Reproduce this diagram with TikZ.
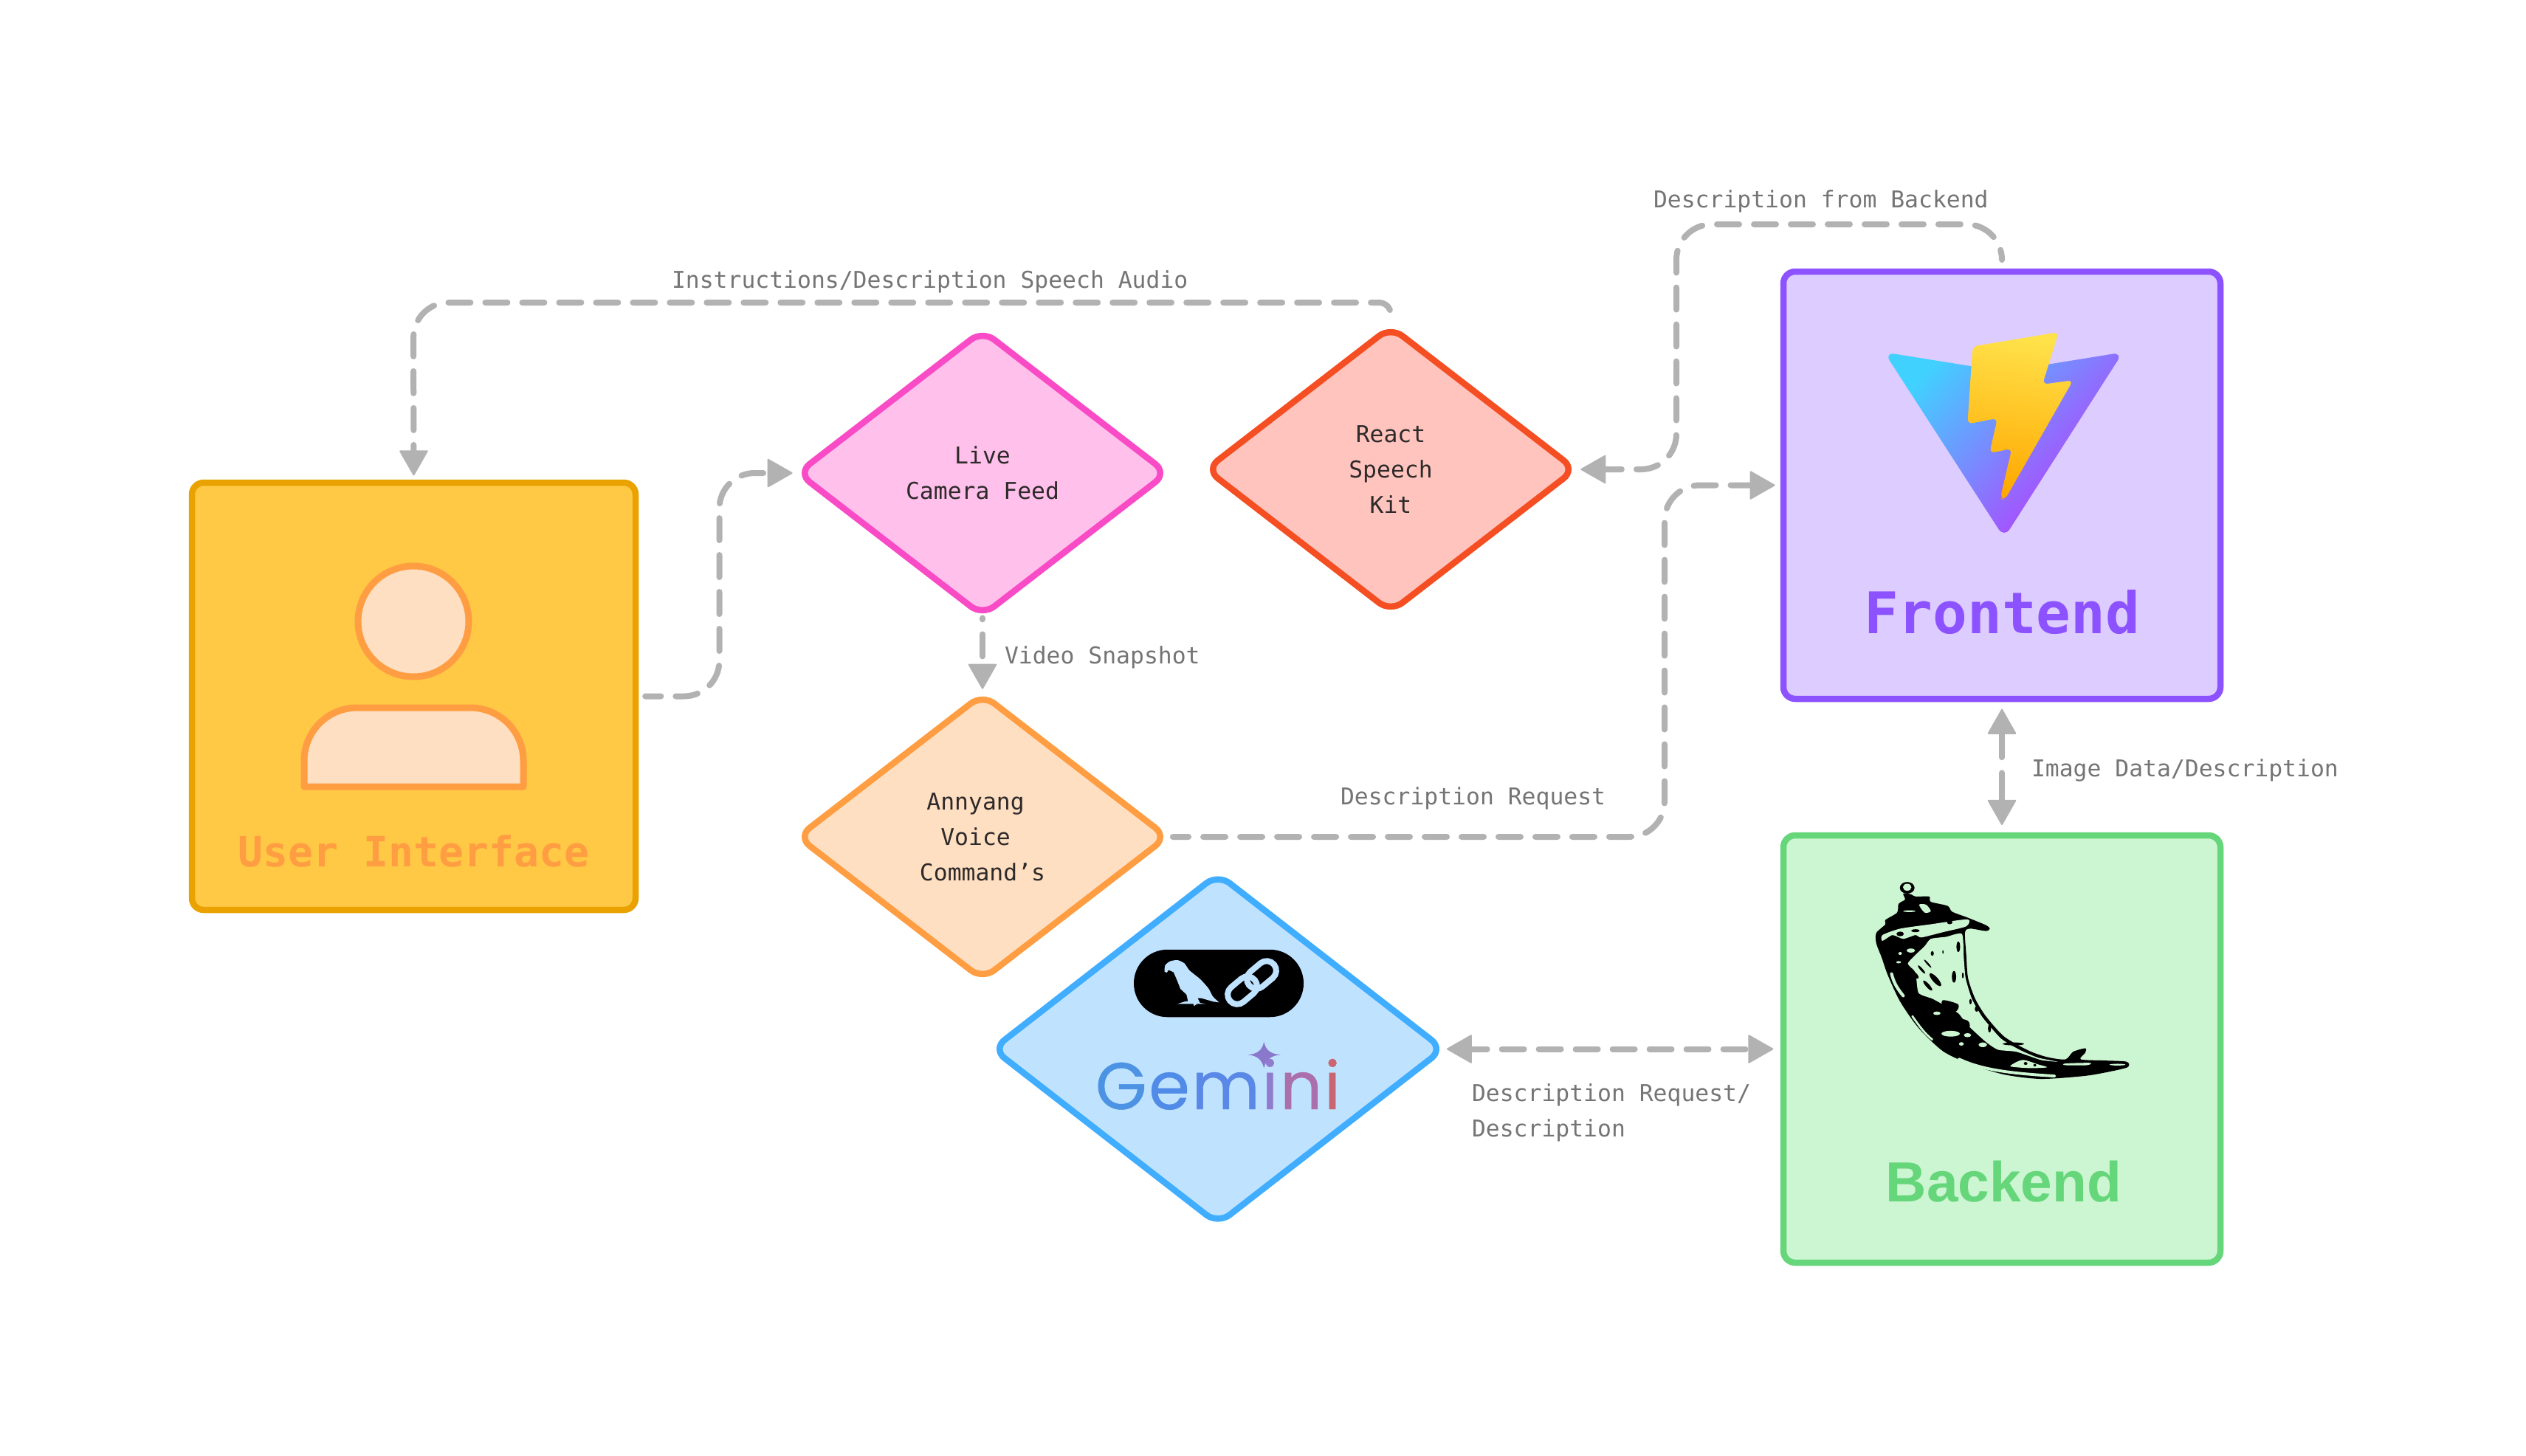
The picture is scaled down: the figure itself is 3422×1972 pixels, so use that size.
\documentclass[tikz,border=0pt]{standalone}
\usepackage{fontspec}
\usetikzlibrary{shapes.geometric,arrows.meta}
\newfontfamily\monof{DejaVu Sans Mono}
\newfontfamily\backf{Liberation Sans}
\newfontfamily\gemf[FakeBold=0.5]{Poppins}
\definecolor{cgray}{HTML}{B2B2B2}
\definecolor{lgray}{HTML}{757575}
\definecolor{dk}{HTML}{2E2A2A}
\definecolor{uStroke}{HTML}{E9A200}
\definecolor{uFill}{HTML}{FFC845}
\definecolor{oStroke}{HTML}{FF9D42}
\definecolor{oFill}{HTML}{FFDFC2}
\definecolor{pStroke}{HTML}{FA4BC7}
\definecolor{pFill}{HTML}{FFC0EB}
\definecolor{rStroke}{HTML}{F54E23}
\definecolor{rFill}{HTML}{FFC4BD}
\definecolor{bStroke}{HTML}{40ADFF}
\definecolor{bFill}{HTML}{BFE3FF}
\definecolor{vStroke}{HTML}{8C52FF}
\definecolor{vFill}{HTML}{DDCCFF}
\definecolor{gStroke}{HTML}{66D67A}
\definecolor{gFill}{HTML}{CCF5D2}
\definecolor{g1}{HTML}{4D93E4}
\definecolor{g2}{HTML}{508BE8}
\definecolor{g3}{HTML}{5A88E6}
\definecolor{g4}{HTML}{917BCC}
\definecolor{g5}{HTML}{AC6FAE}
\definecolor{g6}{HTML}{C96672}
\definecolor{gStar}{HTML}{8A78CC}
\definecolor{vite1}{HTML}{41D1FF}
\definecolor{vite2}{HTML}{BD34FE}
\definecolor{bolt1}{HTML}{FFE24A}
\definecolor{bolt2}{HTML}{FFA800}
\def\pu{0.02cm}
\tikzset{
  x=0.02cm,y=-0.02cm,
  boxnode/.style={rectangle,draw=#1,line width=8.5*\pu,rounded corners=16*\pu,
    minimum width=592*\pu,minimum height=579*\pu,inner sep=0pt,outer sep=0pt},
  dmnd/.style={diamond,line width=8.5*\pu,rounded corners=20*\pu,inner sep=0pt,outer sep=0pt,
    minimum width=500*\pu,minimum height=386*\pu,align=center,text=dk,
    font=\monof\fontsize{17.87}{27.3}\selectfont},
  lab/.style={anchor=base west,inner sep=0pt,outer sep=0pt,align=left,text=lgray,
    font=\monof\fontsize{17.87}{27.3}\selectfont},
  conn/.style={draw=cgray,line width=8*\pu,line cap=round,line join=round,rounded corners=48*\pu},
  dsh/.style={dash pattern=on 17.07pt off 11.38pt,dash phase=#1},
  tip/.style={-{Triangle[length=20pt,width=22.5pt,round,line width=1.2pt]}},
  tips/.style={{Triangle[length=20pt,width=22.5pt,round,line width=1.2pt]}-{Triangle[length=20pt,width=22.5pt,round,line width=1.2pt]}},
}
\begin{document}
\begin{tikzpicture}
\useasboundingbox (0,0) rectangle (3422,1972);
\fill[white] (0,0) rectangle (3422,1972);

% boxes
\node[boxnode=uStroke,fill=uFill,minimum width=601*\pu] (user) at (560.5,943.5) {};
\node[boxnode=vStroke,fill=vFill] (frontend) at (2712,657.5) {};
\node[boxnode=gStroke,fill=gFill] (backend) at (2712,1421.5) {};

% diamonds
\node[dmnd,draw=pStroke,fill=pFill] (live) at (1331,641) {Live\\Camera Feed};
\node[dmnd,draw=rStroke,fill=rFill] (react) at (1884,636) {React\\Speech\\Kit};
\node[dmnd,draw=oStroke,fill=oFill] (annyang) at (1331,1134) {Annyang\hspace*{0.6em}\mbox{}\\Voice\hspace*{0.6em}\mbox{}\\Command’s};
\node[dmnd,draw=bStroke,fill=bFill,minimum width=610*\pu,minimum height=474*\pu] (gemini) at (1650,1421.5) {};

% user icon
\draw[oStroke,fill=oFill,line width=9*\pu] (560,842) circle (75);
\draw[oStroke,fill=oFill,line width=9*\pu,line join=round] (412,1066) -- (412,1031) .. controls (412,991) and (444,959) .. (484,959) -- (637,959) .. controls (677,959) and (709,991) .. (709,1031) -- (709,1066) -- cycle;
\node[anchor=base,inner sep=0pt,text=oStroke,font=\monof\bfseries\fontsize{32.1}{36}\selectfont] (userlabel) at (560.5,1174) {User Interface};

% frontend
\node[anchor=base,inner sep=0pt,text=vStroke,font=\monof\bfseries\fontsize{44.2}{50}\selectfont] (frontendlabel) at (2712,858) {Frontend};
\begin{scope}[shift={(2400,350)},xscale=0.4146,yscale=0.3954]
  \shade[top color=vite1,bottom color=vite2,shading angle=48,rounded corners=8pt]
    (368,322) -- (760,388) -- (1148,322) -- (760,958) -- cycle;
  \shade[top color=bolt1,bottom color=bolt2,shading angle=-8,rounded corners=4pt]
    (657,302) -- (938,253) -- (885,432) -- (985,418) -- (762,828) -- (747,822) -- (785,652) -- (712,668) -- (738,548) -- (640,568) -- cycle;
\end{scope}

% backend label and flask horn
\node[anchor=base,inner sep=0pt,text=gStroke,font=\backf\bfseries\fontsize{43.6}{50}\selectfont] (backendlabel) at (2714.5,1628) {Backend};
\begin{scope}[shift={(2400,1120)},xscale=0.4146,yscale=0.3954]
  \fill[black] (443,210) ellipse (24 and 20);
  \fill[gFill] (443,208) ellipse (14 and 12);
  \fill[black] plot[smooth cycle,tension=.45] coordinates {(430,230) (455,232) (470,240) (515,240) (520,258) (575,272) (590,292) (640,312) (700,338) (713,350) (700,358) (650,350) (632,362) (636,440) (642,520) (665,590) (700,650) (760,720) (840,768) (900,790) (960,798) (985,772) (1025,760) (1025,775) (1010,798) (1090,802) (1160,806) (1163,825) (1095,842) (1020,855) (880,865) (760,850) (650,815) (560,770) (480,690) (420,600) (380,510) (360,450) (342,400) (342,365) (372,335) (372,320) (410,295) (415,265) (436,250)};
  % lit part of the horn
  \fill[gFill] plot[smooth cycle,tension=.35] coordinates {(622,368) (628,450) (634,520) (655,592) (690,655) (750,727) (810,765) (870,792) (935,806) (880,800) (800,772) (740,765) (700,738) (640,680) (610,640) (560,610) (525,590) (480,570) (470,500) (445,470) (470,440) (500,410) (520,385) (570,378)};
  % rim highlight
  \fill[gFill] plot[smooth cycle,tension=.4] coordinates {(640,318) (636,342) (560,362) (490,380) (470,372) (430,385) (395,372) (362,392) (362,372) (420,350) (520,335)};
  \fill[black] (582,328) ellipse (9 and 7);
  \fill[black] (470,357) ellipse (14 and 5);
  \fill[black] (420,368) ellipse (12 and 8);
  % cap highlight
  \fill[gFill] plot[smooth cycle,tension=.5] coordinates {(482,268) (505,268) (520,290) (500,295)};
  \fill[gFill] (450,290) ellipse (20 and 3);
  % blotches on the lit part
  \fill[black] (610,412) ellipse (6 and 18);
  \fill[black] (596,515) ellipse (7 and 20);
  \fill[black] (625,510) ellipse (3 and 10);
  \fill[black,rotate around={-50:(535,525)}] (535,525) ellipse (28 and 9);
  \fill[black,rotate around={-50:(510,545)}] (510,545) ellipse (22 and 6);
  \fill[black,rotate around={-50:(490,490)}] (490,490) ellipse (18 and 4);
  \fill[black,rotate around={-50:(510,470)}] (510,470) ellipse (18 and 3);
  \fill[black,rotate around={-50:(470,510)}] (470,510) ellipse (14 and 7);
  \fill[black] plot[smooth cycle,tension=.5] coordinates {(560,595) (610,610) (600,635) (560,620)};
  \fill[black] plot[smooth cycle,tension=.5] coordinates {(590,655) (640,665) (645,688) (600,680)};
  \fill[black] (712,692) ellipse (5 and 14);
  \fill[black] (650,600) ellipse (4 and 9);
  \fill[black] (670,625) ellipse (6 and 10);
  \fill[black] (525,435) ellipse (5 and 8);
  \fill[black] (560,430) ellipse (2 and 6);
  \fill[black] (790,745) ellipse (35 and 5);
  % lit spots in the dark body
  \fill[gFill] (585,710) ellipse (30 and 10);
  \fill[gFill] (640,715) ellipse (12 and 7);
  \fill[gFill] (690,748) ellipse (14 and 8);
  \fill[gFill] (620,745) ellipse (8 and 6);
  \fill[gFill] (455,425) ellipse (14 and 7);
  \fill[gFill] (420,435) ellipse (6 and 5);
  \fill[gFill] (415,465) ellipse (8 and 4);
  \fill[gFill] (540,640) ellipse (12 and 6);
  \fill[gFill] plot[smooth cycle,tension=.5] coordinates {(780,820) (820,800) (870,815) (900,825) (850,828) (800,825)};
  \fill[black] (830,812) ellipse (6 and 5);
  \fill[black] (860,818) ellipse (5 and 4);
  \fill[gFill] plot[smooth cycle,tension=.5] coordinates {(960,812) (1040,810) (1030,818) (960,818)};
  \fill[gFill] (1130,816) ellipse (26 and 3);
  \draw[gFill,line width=2.2pt,line cap=round] (612,797) .. controls (680,830) and (760,845) .. (925,855);
  \draw[gFill,line width=2.4pt,line cap=round] (392,505) .. controls (400,540) and (415,560) .. (430,580);
  \draw[gFill,line width=1.6pt,line cap=round] (460,650) .. controls (480,680) and (500,710) .. (525,730);
\end{scope}

% Gemini contents
\node[rectangle,rounded corners=45.6*\pu,fill=black,minimum width=230*\pu,minimum height=91.5*\pu,inner sep=0pt,outer sep=0pt] (pill) at (1651,1332.5) {};
\begin{scope}[shift={(1340,1180)},xscale=0.40816,yscale=0.33333]
  \fill[bFill] plot[smooth,tension=.4] coordinates {(582,410) (584,385) (600,368) (625,363) (648,376) (665,405) (700,440) (728,478) (742,510) (763,535)} -- (745,532) -- (705,518) -- (692,518) -- (700,537) -- (718,541) -- (690,541) -- (680,550) -- (678,541) -- (625,541) -- (648,532) -- (660,530) -- (655,503) -- (635,480) -- (622,440) -- (612,412) -- (595,403) -- (590,414) -- cycle;
\end{scope}
\draw[bFill,line width=8*\pu,rounded corners=13*\pu,rotate around={40:(1709,1321)}] (1687,1308) rectangle (1731,1334);
\draw[bFill,line width=8*\pu,rounded corners=13*\pu,rotate around={40:(1683,1342)}] (1661,1329) rectangle (1705,1355);
\node[anchor=base,inner sep=0pt,font=\gemf\fontsize{51}{55}\selectfont] (geminilabel) at (1650,1503) {\color{g1}G\kern1.5pt\color{g2}e\kern1.5pt\color{g3}m\kern1.5pt\color{g4}i\kern1.5pt\color{g5}n\kern1.5pt\color{g6}i};
\begin{scope}[shift={(1340,1180)},xscale=0.40816,yscale=0.33333]
  \fill[gStar] (912,695) .. controls (918,730) and (935,745) .. (968,748) .. controls (935,750) and (918,770) .. (912,802) .. controls (906,770) and (890,750) .. (858,748) .. controls (890,745) and (906,730) .. (912,695) -- cycle;
\end{scope}

% connectors
\draw[conn,tip,dsh=5,shorten <=7.5pt,shorten >=4.2pt] (user.east) -- ++(113.5,0) |- (live.west);
\draw[conn,tip,dsh=16,shorten <=2pt,shorten >=4.2pt] (live.south) -- (annyang.north);
\draw[conn,tip,dsh=5,shorten <=4.5pt,shorten >=6.5pt] (annyang.east) -- ++(674,0) |- (frontend.west);
\draw[conn,tip,dsh=21,shorten <=5.7pt,shorten >=5.5pt] (react.north) [rounded corners=9pt] -- ++(0,-33) [rounded corners=27pt] -- ++(-1324,0) -- (user.north);
\draw[conn,tip,dsh=9,shorten <=9.5pt,shorten >=4.2pt] (frontend.north) -- ++(0,-64) -- ++(-441,0) |- (react.east);
\draw[conn,tips,dash pattern=on 18.2pt off 12pt on 100pt off 0pt,shorten <=7.8pt,shorten >=8pt] (frontend.south) -- (backend.north);
\draw[conn,tips,dsh=5,shorten <=2.8pt,shorten >=7.8pt] (gemini.east) -- (backend.west);

% connector labels
\node[lab] (l1) at (910,390) {Instructions/Description Speech Audio};
\node[lab] (l2) at (2240,281) {Description from Backend};
\node[lab] (l3) at (1361,899) {Video Snapshot};
\node[lab] (l4) at (1816,1090) {Description Request};
\node[lab] (l5) at (2752,1052) {Image Data/Description};
\node[lab,anchor=north west] (l6) at (1994,1469) {Description Request/\\Description};
\end{tikzpicture}
\end{document}
